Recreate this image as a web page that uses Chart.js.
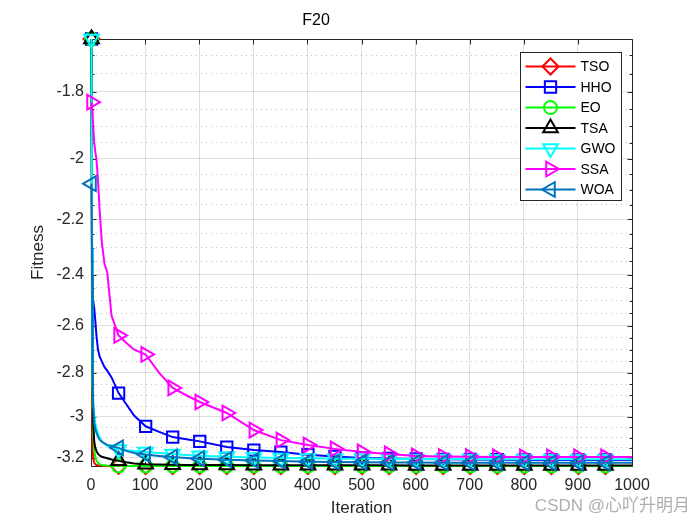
<!DOCTYPE html>
<html>
<head>
<meta charset="utf-8">
<script src="https://cdn.jsdelivr.net/npm/chart.js@4.4.0/dist/chart.umd.min.js"></script>
<style>
  html, body { margin: 0; padding: 0; background: #fff; }
</style>
</head>
<body>
<canvas id="curve" width="700" height="525"></canvas>
<script>
// iterations where the curves were sampled (markers every 50 starting at 1)
const iters = [1,2,3,4,6,8,10,13,16,20,25,30,38,51,65,80,
  101,126,151,176,201,251,301,351,401,451,501,551,601,651,701,751,801,851,901,951,1000];

const tso = [-1.657,-2.9,-3.15,-3.2,-3.225,-3.232,-3.236,-3.238,-3.239,-3.24,-3.2403,-3.2405,-3.2407,-3.2408,-3.2409,-3.241,
  -3.241,-3.241,-3.241,-3.241,-3.241,-3.241,-3.241,-3.241,-3.241,-3.241,-3.241,-3.241,-3.241,-3.241,-3.241,-3.241,-3.241,-3.241,-3.241,-3.241,-3.241];
const hho = [-1.657,-2.3,-2.45,-2.5,-2.53,-2.58,-2.64,-2.7,-2.73,-2.75,-2.775,-2.79,-2.82,-2.89,-2.94,-2.995,
  -3.045,-3.072,-3.097,-3.108,-3.118,-3.146,-3.161,-3.171,-3.184,-3.193,-3.2,-3.203,-3.205,-3.207,-3.208,-3.209,-3.21,-3.21,-3.21,-3.21,-3.21];
const eo = [-1.657,-2.6,-2.95,-3.08,-3.16,-3.195,-3.212,-3.225,-3.232,-3.236,-3.238,-3.239,-3.24,-3.2403,-3.2405,-3.2406,
  -3.2407,-3.2408,-3.2408,-3.2409,-3.2409,-3.241,-3.241,-3.241,-3.241,-3.241,-3.241,-3.241,-3.241,-3.241,-3.241,-3.241,-3.241,-3.241,-3.241,-3.241,-3.241];
const tsa = [-1.657,-2.4,-2.85,-3.02,-3.12,-3.15,-3.165,-3.18,-3.188,-3.194,-3.198,-3.202,-3.208,-3.215,-3.222,-3.228,
  -3.232,-3.234,-3.235,-3.236,-3.236,-3.2365,-3.237,-3.237,-3.2372,-3.2374,-3.2376,-3.2378,-3.238,-3.238,-3.238,-3.238,-3.238,-3.238,-3.238,-3.238,-3.238];
const gwo = [-1.657,-2.3,-2.85,-2.93,-2.99,-3.03,-3.055,-3.08,-3.1,-3.118,-3.13,-3.14,-3.15,-3.158,-3.162,-3.166,
  -3.17,-3.175,-3.18,-3.185,-3.189,-3.194,-3.198,-3.2,-3.202,-3.204,-3.204,-3.205,-3.205,-3.206,-3.206,-3.207,-3.207,-3.207,-3.207,-3.207,-3.207];
const ssa = [-1.83,-1.85,-1.87,-1.9,-1.95,-1.98,-2.0,-2.07,-2.17,-2.28,-2.36,-2.39,-2.56,-2.64,-2.67,-2.7,
  -2.72,-2.8,-2.867,-2.9,-2.931,-2.982,-3.063,-3.112,-3.136,-3.155,-3.17,-3.18,-3.19,-3.193,-3.194,-3.195,-3.195,-3.195,-3.195,-3.195,-3.195];
const woa = [-2.08,-2.4,-2.75,-2.95,-3.03,-3.06,-3.075,-3.095,-3.11,-3.12,-3.128,-3.135,-3.142,-3.15,-3.165,-3.175,
  -3.183,-3.19,-3.196,-3.2,-3.204,-3.209,-3.213,-3.216,-3.219,-3.221,-3.222,-3.223,-3.223,-3.224,-3.224,-3.225,-3.225,-3.225,-3.225,-3.225,-3.225];

const xTicks = [0,100,200,300,400,500,600,700,800,900,1000];
const yMajorTicks = [-1.8,-2,-2.2,-2.4,-2.6,-2.8,-3,-3.2];

const txt = '#262626';
const fontFam = '"Liberation Sans", Arial, Helvetica, sans-serif';

// all curves are negative, MATLAB log axis on -y -> plot |y| on reversed log scale
const allAbs = [tso, hho, eo, tsa, gwo, ssa, woa].flat().map(Math.abs);
const yLo = Math.min(...allAbs);
const yHi = Math.max(...allAbs);

// minor (dotted) grid every 0.05
const yGrid = [];
for (let k = 34; k <= 64; k++) {
  const v = k * 0.05;
  if (v < yLo || v > yHi) continue;
  const r = Math.round(v * 100) / 100;
  yGrid.push({ value: r, minor: !yMajorTicks.includes(-r) });
}

function series(label, vals, color, style, rot, size, order) {
  return {
    label: label,
    data: iters.map((it, i) => ({ x: it, y: Math.abs(vals[i]) })),
    borderColor: color,
    backgroundColor: color,
    borderWidth: 2,
    pointStyle: style,
    pointRotation: rot,
    markerSize: size,
    pointRadius: c => (c.raw && (c.raw.x - 1) % 50 === 0) ? size : 0,
    pointBorderColor: color,
    pointBackgroundColor: 'rgba(0,0,0,0)',
    pointBorderWidth: 2,
    pointHitRadius: 0,
    clip: false,
    order: order
  };
}

const boxPlugin = {
  id: 'box',
  beforeDatasetsDraw(chart) {
    const { ctx, chartArea: a, scales: { x, y } } = chart;
    const L = Math.round(a.left) + 0.5, R = Math.round(a.right) + 0.5;
    const T = Math.round(a.top) + 0.5, B = Math.round(a.bottom) + 0.5;
    ctx.save();
    ctx.strokeStyle = txt;
    ctx.lineWidth = 1;
    ctx.beginPath();
    ctx.rect(L, T, R - L, B - T);
    x.ticks.forEach(t => {
      const px = Math.round(x.getPixelForValue(t.value)) + 0.5;
      ctx.moveTo(px, B); ctx.lineTo(px, B - 5);
      ctx.moveTo(px, T); ctx.lineTo(px, T + 5);
    });
    y.ticks.forEach(t => {
      const py = Math.round(y.getPixelForValue(t.value)) + 0.5;
      const len = t.minor ? 3 : 5;
      ctx.moveTo(L, py); ctx.lineTo(L + len, py);
      ctx.moveTo(R, py); ctx.lineTo(R - len, py);
    });
    ctx.stroke();
    ctx.restore();
  }
};

const legendPlugin = {
  id: 'boxLegend',
  afterDatasetsDraw(chart) {
    const { ctx, chartArea: a } = chart;
    const w = 101, h = 148;
    const x0 = Math.round(a.right - 11 - w) + 0.5, y0 = Math.round(a.top + 13) + 0.5;
    ctx.save();
    ctx.fillStyle = '#fff';
    ctx.fillRect(x0, y0, w, h);
    ctx.strokeStyle = txt;
    ctx.lineWidth = 1;
    ctx.strokeRect(x0, y0, w, h);
    chart.data.datasets.forEach((ds, i) => {
      const cy = y0 + 14 + i * 20.5;
      ctx.strokeStyle = ds.borderColor;
      ctx.lineWidth = 2;
      ctx.beginPath();
      ctx.moveTo(x0 + 5, cy);
      ctx.lineTo(x0 + 55, cy);
      ctx.stroke();
      ctx.fillStyle = 'rgba(0,0,0,0)';
      Chart.helpers.drawPoint(ctx, {
        pointStyle: ds.pointStyle, rotation: ds.pointRotation,
        radius: ds.markerSize, borderWidth: 2
      }, x0 + 30, cy);
      ctx.fillStyle = '#000';
      ctx.font = '14px ' + fontFam;
      ctx.textBaseline = 'middle';
      ctx.textAlign = 'left';
      ctx.fillText(ds.label, x0 + 60, cy + 1);
    });
    ctx.restore();
  }
};

const markPlugin = {
  id: 'mark',
  afterDraw(chart) {
    const ctx = chart.ctx;
    ctx.save();
    ctx.fillStyle = 'rgba(120,120,120,0.6)';
    ctx.font = '17px "Liberation Sans", "Noto Sans CJK SC", sans-serif';
    ctx.textAlign = 'right';
    ctx.textBaseline = 'middle';
    ctx.fillText('CSDN @心吖升明月', 690, 506);
    ctx.restore();
  }
};

new Chart(document.getElementById('curve'), {
  type: 'line',
  data: {
    datasets: [
      series('TSO', tso, '#ff0000', 'rectRot', 0, 8, 6),
      series('HHO', hho, '#0000ff', 'rect', 0, 8, 5),
      series('EO', eo, '#00ff00', 'circle', 0, 6.5, 4),
      series('TSA', tsa, '#000000', 'triangle', 0, 8.5, 3),
      series('GWO', gwo, '#00ffff', 'triangle', 180, 8.5, 2),
      series('SSA', ssa, '#ff00ff', 'triangle', 90, 8.5, 1),
      series('WOA', woa, '#0072bd', 'triangle', 270, 8.5, 0)
    ]
  },
  options: {
    responsive: false,
    animation: false,
    events: [],
    layout: { padding: { left: 0, right: 68, top: 0, bottom: 0 } },
    plugins: {
      legend: { display: false },
      tooltip: { enabled: false },
      title: {
        display: true,
        text: 'F20',
        color: '#000',
        font: { family: fontFam, size: 16, weight: 'normal', lineHeight: 1.25 },
        padding: { top: 11, bottom: 8 }
      }
    },
    scales: {
      x: {
        type: 'linear',
        min: 0,
        max: 1000,
        afterBuildTicks: s => { s.ticks = xTicks.map(v => ({ value: v })); },
        ticks: { autoSkip: false, maxRotation: 0, padding: 10, color: txt,
                 font: { family: fontFam, size: 16 },
                 callback: v => String(v) },
        grid: { drawTicks: false, color: 'rgba(38,38,38,0.15)' },
        border: { display: false },
        afterFit: s => { s.height = 59; },
        title: { display: true, text: 'Iteration', color: txt,
                 font: { family: fontFam, size: 17 }, padding: { top: 0, bottom: 6 } }
      },
      y: {
        type: 'logarithmic',
        reverse: true,
        min: yLo,
        max: yHi,
        bounds: 'data',
        afterBuildTicks: s => { s.ticks = yGrid.map(t => ({ value: t.value, minor: t.minor })); },
        ticks: {
          autoSkip: false, padding: 7, color: txt,
          font: { family: fontFam, size: 16 },
          callback: (v, i, t) => t[i].minor ? '' : '-' + (+Number(v).toFixed(2))
        },
        grid: {
          drawTicks: false,
          color: c => (c.tick && c.tick.minor) ? 'rgba(38,38,38,0.3)' : 'rgba(38,38,38,0.15)'
        },
        border: { display: false, dash: c => (c.tick && c.tick.minor) ? [1, 4] : [] },
        afterFit: s => { s.width = 91; },
        title: { display: true, text: 'Fitness', color: txt,
                 font: { family: fontFam, size: 17 }, padding: { top: 28, bottom: 0 } }
      }
    }
  },
  plugins: [boxPlugin, legendPlugin, markPlugin]
});
</script>
</body>
</html>
